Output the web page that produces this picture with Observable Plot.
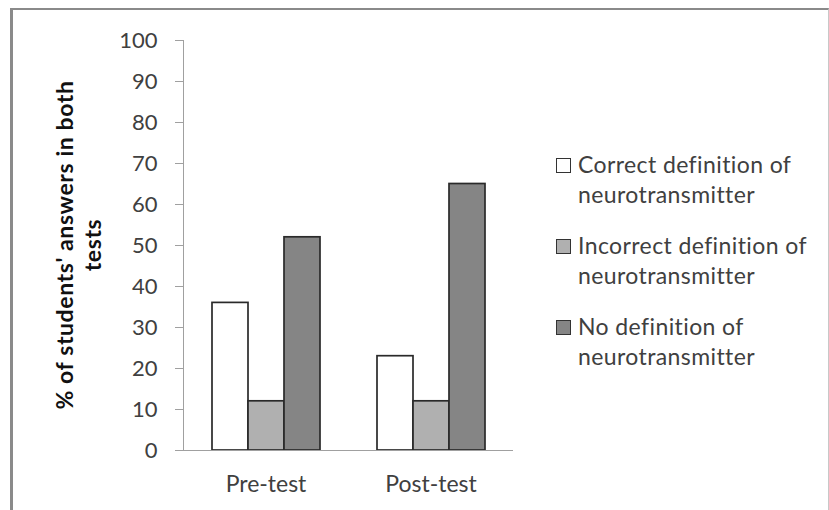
<!DOCTYPE html>
<html><head><meta charset="utf-8">
<script src="https://cdn.jsdelivr.net/npm/d3@7"></script>
<script src="https://cdn.jsdelivr.net/npm/@observablehq/plot@0.6"></script>
<style>
body{margin:0;background:#fff;font-family:Lato,sans-serif}
#wrap{position:relative;width:829px;height:510px;overflow:hidden;background:#fff}
#border{position:absolute;left:10px;top:8px;width:815px;height:520px;border-left:3px solid #8a8a8a;border-top:2px solid #8a8a8a;border-right:1px solid #c8c8c8;pointer-events:none}
#chart{position:absolute;left:0;top:0}
#ytitle{position:absolute;left:-122.5px;top:217px;width:400px;height:56px;line-height:28px;font-size:23px;letter-spacing:0.6px;font-weight:bold;color:#111;text-align:center;transform:rotate(-90deg);transform-origin:50% 50%;white-space:nowrap}
#legend{position:absolute;left:556px;top:149px;font-size:23px;letter-spacing:0.4px;line-height:30px;color:#404040}
.item{position:relative;padding-left:22px;margin-bottom:21px;white-space:nowrap}
.sw{position:absolute;left:0;top:8.5px;width:13px;height:13px;border:1px solid #333}
</style></head>
<body>
<div id="wrap">
  <div id="chart"></div>
  <div id="ytitle"></div>
  <div id="legend"></div>
  <div id="border"></div>
</div>
<script>
const tests = ["Pre-test", "Post-test"];
const series = ["Correct definition of neurotransmitter", "Incorrect definition of neurotransmitter", "No definition of neurotransmitter"];
const legendLines = [["Correct definition of", "neurotransmitter"], ["Incorrect definition of", "neurotransmitter"], ["No definition of", "neurotransmitter"]];
const preTestValues = [36, 12, 52];
const postTestValues = [23, 12, 65];
const yTicks = [0, 10, 20, 30, 40, 50, 60, 70, 80, 90, 100];
const seriesColors = ["#ffffff", "#b0b0b0", "#858585"];
const yTitleLines = ["% of students' answers in both", "tests"];

const data = [];
series.forEach((s, i) => {
  data.push({test: tests[0], series: s, value: preTestValues[i]});
  data.push({test: tests[1], series: s, value: postTestValues[i]});
});

const chart = Plot.plot({
  width: 829,
  height: 510,
  marginLeft: 183,
  marginRight: 316,
  marginTop: 40,
  marginBottom: 60,
  style: {fontFamily: "Lato, sans-serif", fontSize: "22px", color: "#404040", background: "transparent"},
  fx: {domain: tests, padding: 0, label: null},
  x: {domain: series, paddingInner: 0, paddingOuter: 0.75, axis: null},
  y: {domain: [0, 100], axis: null},
  color: {domain: series, range: seriesColors},
  marks: [
    Plot.barY(data, {fx: "test", x: "series", y: "value", fill: "series", stroke: "#2a2a2a", strokeWidth: 1.7, insetLeft: 0, insetRight: 0}),
    Plot.ruleY([0], {stroke: "#a0a0a0", strokeWidth: 1}),
    Plot.frame({anchor: "left", stroke: "#a0a0a0", facetAnchor: "left"}),
    Plot.axisY({ticks: yTicks, tickSize: 8, tickPadding: 18, stroke: "#a0a0a0", fill: "#404040", fontSize: 22, label: null}),
    Plot.axisFx({anchor: "bottom", tickSize: 0, tickPadding: 25, fill: "#404040", fontSize: 23, label: null})
  ]
});
document.getElementById("chart").appendChild(chart);

document.getElementById("ytitle").innerHTML = yTitleLines.join("<br>");

const legend = document.getElementById("legend");
series.forEach((s, i) => {
  const item = document.createElement("div");
  item.className = "item";
  const sw = document.createElement("span");
  sw.className = "sw";
  sw.style.background = seriesColors[i];
  item.appendChild(sw);
  item.insertAdjacentHTML("beforeend", legendLines[i].join("<br>"));
  legend.appendChild(item);
});
</script>
</body></html>
